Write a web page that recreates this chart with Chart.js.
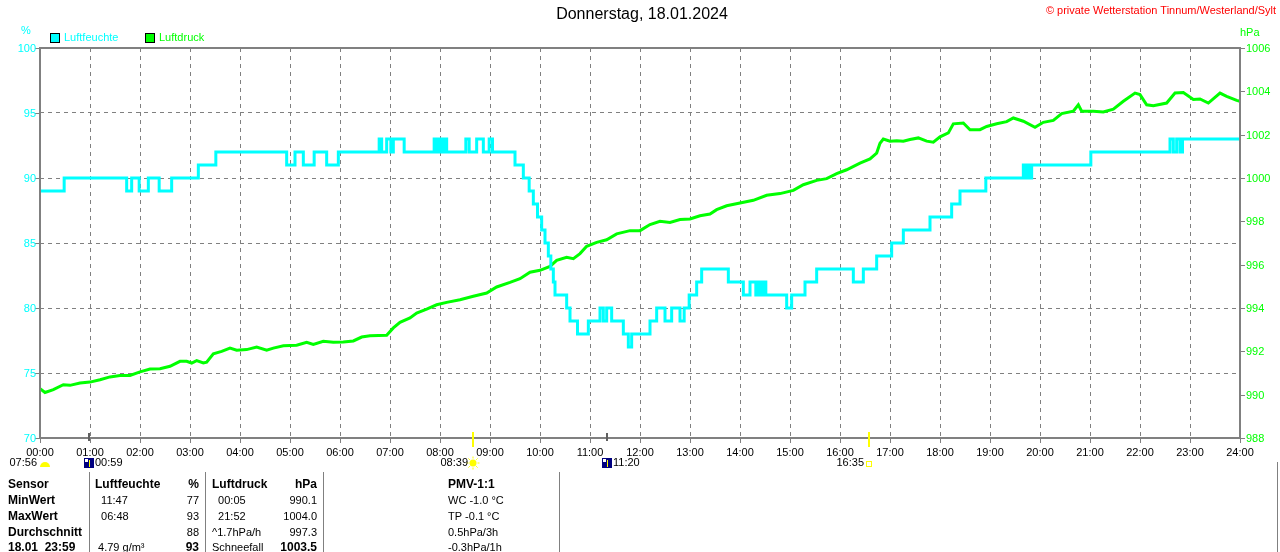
<!DOCTYPE html>
<html>
<head>
<meta charset="utf-8">
<script src="https://cdn.jsdelivr.net/npm/chart.js@4.4.1/dist/chart.umd.min.js"></script>
<style>
  html, body { margin: 0; padding: 0; background: #fff; overflow: hidden; }
  canvas { display: block; }
</style>
</head>
<body>
<canvas id="wxChart" width="1280" height="552"></canvas>
<script>
// humidity (%) change points, minutes after midnight
const humTimes = [0, 29, 104, 110, 119, 130, 143, 158, 190, 211,
  296, 306, 316, 329, 344, 358, 407, 410, 416, 421, 424, 437,
  473, 476, 479, 482, 485, 488, 511, 515, 524, 532, 539, 543,
  570, 580, 587, 592, 597, 602, 606, 610, 613, 616, 618,
  632, 636, 645, 658, 672, 676, 680, 686, 700, 706, 710,
  732, 740, 750, 758, 768, 773, 779, 788, 794,
  826, 844, 852, 859, 862, 865, 868, 871,
  896, 902, 918, 932, 976, 988, 1004, 1022, 1036, 1068,
  1094, 1104, 1135, 1180, 1183, 1186, 1188, 1190,
  1261, 1356, 1360, 1364, 1368, 1371, 1440];
const humValues = [89, 90, 89, 90, 89, 90, 89, 90, 91, 92,
  91, 92, 91, 92, 91, 92, 93, 92, 93, 92, 93, 92,
  93, 92, 93, 92, 93, 92, 93, 92, 93, 92, 93, 92,
  91, 90, 89, 88, 87, 86, 85, 84, 83, 82, 81,
  80, 79, 78, 79, 80, 79, 80, 79, 78, 77, 78,
  79, 80, 79, 80, 79, 80, 81, 82, 83,
  82, 81, 82, 81, 82, 81, 82, 81,
  80, 81, 82, 83, 82, 83, 84, 85, 86, 87,
  88, 89, 90, 91, 90, 91, 90, 91,
  92, 93, 92, 93, 92, 93, 93];

// air pressure (hPa), minutes after midnight
const pressTimes = [0, 6, 16, 28, 36, 48, 60, 72, 84, 96,
  108, 120, 132, 144, 156, 168, 176, 182, 188, 196,
  200, 208, 218, 228, 236, 248, 260, 272, 280, 292,
  308, 320, 328, 340, 352, 364, 376, 386, 396, 416,
  424, 432, 444, 452, 464, 476, 488, 504, 520, 536,
  548, 564, 576, 588, 600, 612, 620, 632, 640, 648,
  656, 668, 680, 692, 708, 720, 732, 744, 756, 768,
  780, 792, 804, 812, 824, 840, 856, 872, 888, 904,
  916, 932, 944, 956, 968, 984, 996, 1004, 1008, 1012,
  1020, 1028, 1036, 1044, 1054, 1064, 1072, 1080, 1090, 1096,
  1108, 1116, 1128, 1136, 1148, 1160, 1168, 1180, 1194, 1204,
  1216, 1226, 1240, 1246, 1250, 1264, 1276, 1288, 1300, 1314,
  1320, 1328, 1336, 1352, 1362, 1372, 1384, 1392, 1402, 1416,
  1424, 1436, 1440];
const pressValues = [990.28, 990.10, 990.23, 990.46, 990.43, 990.54, 990.58, 990.69, 990.82, 990.88,
  990.89, 991.05, 991.18, 991.20, 991.31, 991.54, 991.54, 991.46, 991.57, 991.46,
  991.50, 991.89, 992.00, 992.15, 992.05, 992.08, 992.20, 992.05, 992.15, 992.26,
  992.28, 992.42, 992.32, 992.46, 992.42, 992.43, 992.48, 992.66, 992.72, 992.74,
  993.08, 993.34, 993.54, 993.77, 993.95, 994.15, 994.26, 994.38, 994.54, 994.69,
  994.97, 995.18, 995.35, 995.65, 995.74, 995.92, 996.20, 996.34, 996.28, 996.51,
  996.85, 997.03, 997.15, 997.42, 997.57, 997.57, 997.85, 998.00, 997.95, 998.08,
  998.11, 998.26, 998.34, 998.54, 998.72, 998.85, 998.97, 999.20, 999.28, 999.43,
  999.69, 999.89, 999.97, 1000.20, 1000.38, 1000.69, 1000.88, 1001.15, 1001.60, 1001.80,
  1001.70, 1001.72, 1001.70, 1001.78, 1001.85, 1001.70, 1001.65, 1001.90, 1002.08, 1002.50,
  1002.54, 1002.23, 1002.23, 1002.38, 1002.50, 1002.60, 1002.77, 1002.62, 1002.34, 1002.57,
  1002.66, 1002.97, 1003.08, 1003.38, 1003.08, 1003.08, 1003.05, 1003.18, 1003.54, 1003.92,
  1003.85, 1003.38, 1003.34, 1003.46, 1003.92, 1003.95, 1003.62, 1003.65, 1003.46, 1003.92,
  1003.77, 1003.58, 1003.54];

const hourLabels = ["00:00", "01:00", "02:00", "03:00", "04:00", "05:00", "06:00", "07:00",
  "08:00", "09:00", "10:00", "11:00", "12:00", "13:00", "14:00", "15:00", "16:00", "17:00",
  "18:00", "19:00", "20:00", "21:00", "22:00", "23:00", "24:00"];
const humTicks = [70, 75, 80, 85, 90, 95, 100];
const pressTicks = [988, 990, 992, 994, 996, 998, 1000, 1002, 1004, 1006];

// sun / moon events under the time axis
const eventTimes = [59, 519, 680, 995];
const eventLabels = ["00:59", "08:39", "11:20", "16:35"];
const eventKinds = ["moon", "sun", "moon", "sunset"];

const HUM = "#00ffff";
const PRESS = "#00ff00";
const FONT = '"Liberation Sans", Arial, sans-serif';

// text table under the chart
const tableRows = [
  ["Sensor", "Luftfeuchte", "%", "Luftdruck", "hPa", "PMV-1:1"],
  ["MinWert", "  11:47", "77", "  00:05", "990.1", "WC -1.0 °C"],
  ["MaxWert", "  06:48", "93", "  21:52", "1004.0", "TP -0.1 °C"],
  ["Durchschnitt", "", "88", "^1.7hPa/h", "997.3", "0.5hPa/3h"],
  ["18.01  23:59", " 4.79 g/m³", "93", "Schneefall", "1003.5", "-0.3hPa/1h"]
];

const overlay = {
  id: "overlay",
  afterDraw(chart) {
    const { ctx, chartArea: a, scales } = chart;
    const x = scales.x, y = scales.y, y1 = scales.y1;
    ctx.save();

    // frame
    ctx.strokeStyle = "#808080";
    ctx.lineWidth = 2;
    ctx.strokeRect(a.left, a.top, a.right - a.left, a.bottom - a.top);

    // small ticks
    ctx.lineWidth = 1;
    humTicks.forEach(v => {
      const py = Math.round(y.getPixelForValue(v)) + 0.5;
      ctx.beginPath(); ctx.moveTo(a.left - 5, py); ctx.lineTo(a.left, py); ctx.stroke();
    });
    pressTicks.forEach(v => {
      const py = Math.round(y1.getPixelForValue(v)) + 0.5;
      ctx.beginPath(); ctx.moveTo(a.right, py); ctx.lineTo(a.right + 5, py); ctx.stroke();
    });
    hourLabels.forEach((l, i) => {
      const px = Math.round(x.getPixelForValue(i * 60)) + 0.5;
      ctx.beginPath(); ctx.moveTo(px, a.bottom); ctx.lineTo(px, a.bottom + 5); ctx.stroke();
    });

    // title + copyright
    ctx.textBaseline = "middle";
    ctx.fillStyle = "#000";
    ctx.font = "16px " + FONT;
    ctx.textAlign = "center";
    ctx.fillText("Donnerstag, 18.01.2024", 642, 15);
    ctx.fillStyle = "#ff0000";
    ctx.font = "11px " + FONT;
    ctx.textAlign = "right";
    ctx.fillText("© private Wetterstation Tinnum/Westerland/Sylt", 1276, 11, 230);

    // legend
    ctx.textAlign = "left";
    ctx.lineWidth = 1;
    ctx.strokeStyle = "#000";
    ctx.fillStyle = HUM;
    ctx.fillRect(50.5, 33.5, 9, 9); ctx.strokeRect(50.5, 33.5, 9, 9);
    ctx.fillText("Luftfeuchte", 64, 38);
    ctx.fillStyle = PRESS;
    ctx.fillRect(145.5, 33.5, 9, 9); ctx.strokeRect(145.5, 33.5, 9, 9);
    ctx.fillText("Luftdruck", 159, 38);

    // axis units and labels
    ctx.fillStyle = HUM;
    ctx.textAlign = "center";
    ctx.fillText("%", 26, 31);
    ctx.textAlign = "right";
    humTicks.forEach(v => ctx.fillText(String(v), a.left - 4, y.getPixelForValue(v) + 1));
    ctx.fillStyle = PRESS;
    ctx.textAlign = "left";
    ctx.fillText("hPa", 1240, 33);
    pressTicks.forEach(v => ctx.fillText(String(v), a.right + 6, y1.getPixelForValue(v) + 1));
    ctx.fillStyle = "#000";
    ctx.textAlign = "center";
    hourLabels.forEach((l, i) => ctx.fillText(l, x.getPixelForValue(i * 60), a.bottom + 15));

    // dawn label at left
    ctx.textAlign = "right";
    ctx.fillText("07:56", 37, 463);
    ctx.fillStyle = "#ffff00";
    ctx.beginPath(); ctx.arc(45, 467, 5, Math.PI, 0); ctx.fill();

    // sun / moon events
    eventTimes.forEach((t, i) => {
      const px = Math.round(x.getPixelForValue(t));
      const kind = eventKinds[i];
      if (kind === "moon") {
        ctx.fillStyle = "#606060";
        ctx.fillRect(px - 1, a.bottom - 5, 2, 8);
        ctx.fillStyle = "#000080";
        ctx.fillRect(px - 5, 458, 10, 10);
        ctx.fillStyle = "#ffffff";
        ctx.fillRect(px - 4, 459, 3, 3);
        ctx.fillStyle = "#ffff00";
        ctx.fillRect(px, 460, 1, 7);
        ctx.fillStyle = "#000";
        ctx.textAlign = "left";
        ctx.fillText(eventLabels[i], px + 6, 463);
      } else {
        ctx.fillStyle = "#ffff00";
        ctx.fillRect(px - 1, a.bottom - 6, 2, 15);
        if (kind === "sun") {
          ctx.beginPath(); ctx.arc(px, 463, 3.5, 0, Math.PI * 2); ctx.fill();
          ctx.strokeStyle = "#ffff00";
          for (let k = 0; k < 8; k++) {
            const an = k * Math.PI / 4;
            ctx.beginPath();
            ctx.moveTo(px + Math.cos(an) * 4.5, 463 + Math.sin(an) * 4.5);
            ctx.lineTo(px + Math.cos(an) * 6.5, 463 + Math.sin(an) * 6.5);
            ctx.stroke();
          }
        } else {
          ctx.strokeStyle = "#ffff00";
          ctx.strokeRect(px - 2.5, 461.5, 5, 5);
        }
        ctx.fillStyle = "#000";
        ctx.textAlign = "right";
        ctx.fillText(eventLabels[i], px - 5, 463);
      }
    });

    // table separators
    ctx.strokeStyle = "#808080";
    ctx.lineWidth = 1;
    [89, 205, 323, 559].forEach(sx => {
      ctx.beginPath(); ctx.moveTo(sx + 0.5, 472); ctx.lineTo(sx + 0.5, 552); ctx.stroke();
    });
    ctx.beginPath(); ctx.moveTo(1277.5, 462); ctx.lineTo(1277.5, 552); ctx.stroke();

    // table text
    const colX = [8, 95, 199, 212, 317, 448];
    const colAlign = ["left", "left", "right", "left", "right", "left"];
    const rowY = [485, 501, 517, 533, 548];
    ctx.fillStyle = "#000";
    tableRows.forEach((row, r) => {
      row.forEach((txt, c) => {
        const bold = r === 0 || c === 0 || (r === 4 && (c === 2 || c === 4));
        ctx.font = (bold ? "bold 12px " : "11px ") + FONT;
        ctx.textAlign = colAlign[c];
        ctx.fillText(txt, colX[c], rowY[r]);
      });
    });

    ctx.restore();
  }
};

const gridOpts = { color: "#808080", lineWidth: 1, drawTicks: false };

new Chart(document.getElementById("wxChart"), {
  type: "line",
  data: {
    datasets: [
      {
        label: "Luftfeuchte",
        data: humTimes.map((t, i) => ({ x: t, y: humValues[i] })),
        borderColor: HUM,
        borderWidth: 3,
        stepped: "before",
        pointRadius: 0,
        yAxisID: "y",
      },
      {
        label: "Luftdruck",
        data: pressTimes.map((t, i) => ({ x: t, y: pressValues[i] })),
        borderColor: PRESS,
        borderWidth: 3,
        tension: 0,
        pointRadius: 0,
        yAxisID: "y1",
      },
    ],
  },
  options: {
    responsive: false,
    animation: false,
    devicePixelRatio: 1,
    layout: { padding: { left: 40, right: 40, top: 48, bottom: 114 } },
    plugins: { legend: { display: false }, tooltip: { enabled: false } },
    scales: {
      x: {
        type: "linear", min: 0, max: 1440,
        ticks: { display: false, stepSize: 60 },
        grid: gridOpts,
        border: { display: false, dash: [4, 4] },
      },
      y: {
        min: 70, max: 100,
        ticks: { display: false, stepSize: 5 },
        grid: gridOpts,
        border: { display: false, dash: [4, 4] },
      },
      y1: {
        position: "right", min: 988, max: 1006,
        ticks: { display: false, stepSize: 2 },
        grid: { display: false, drawTicks: false },
        border: { display: false },
      },
    },
  },
  plugins: [overlay],
});
</script>
</body>
</html>
